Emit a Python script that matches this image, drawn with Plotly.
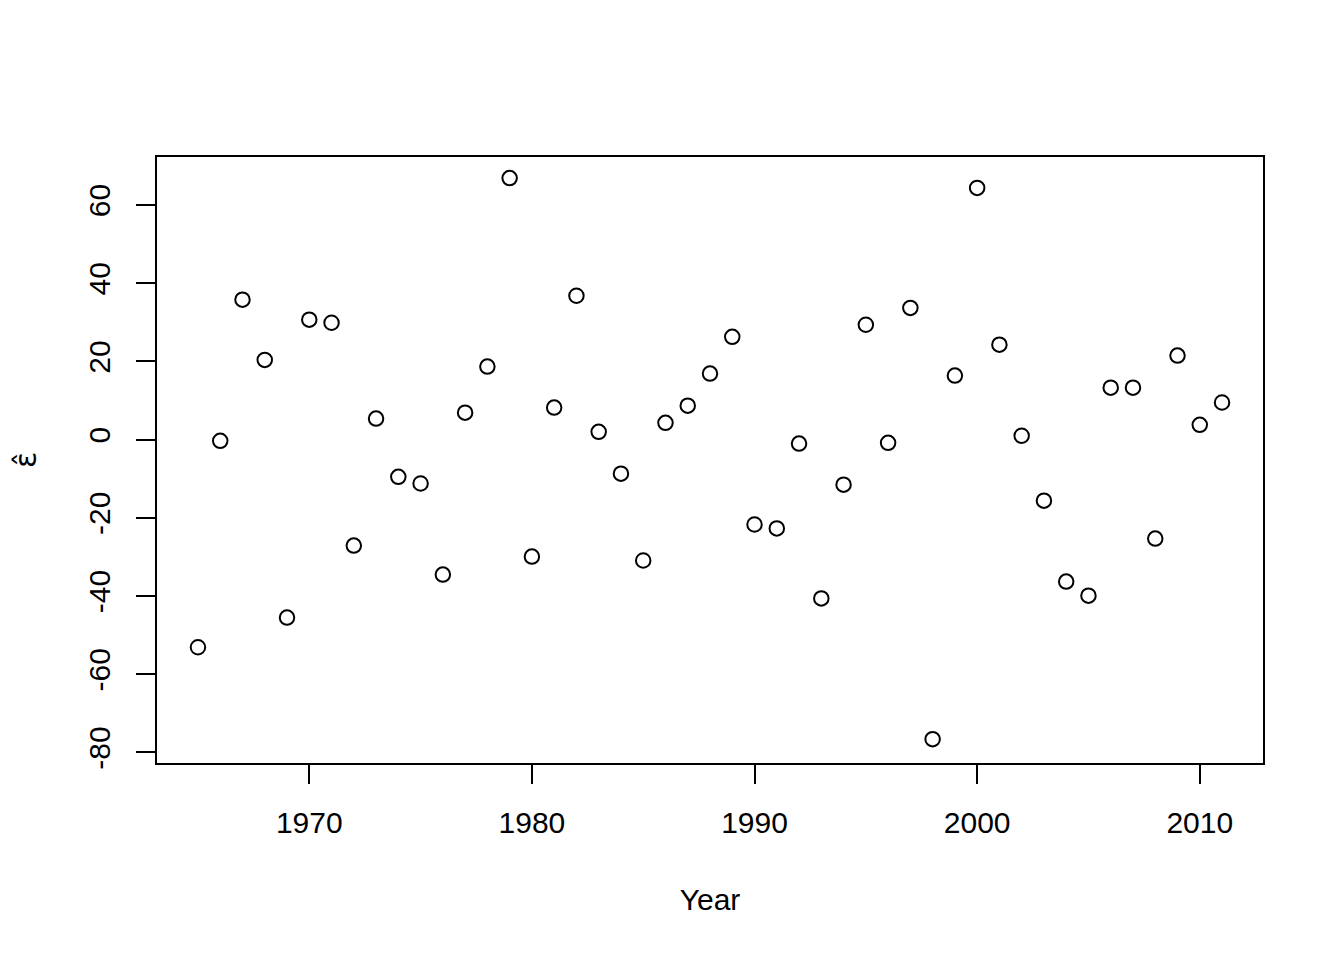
import plotly.graph_objects as go

years = list(range(1965, 2012))
residuals = [-53.1, -0.3, 35.8, 20.4, -45.5, 30.7, 29.9, -27.1, 5.4, -9.5,
             -11.2, -34.5, 6.9, 18.7, 66.9, -29.9, 8.2, 36.8, 2.0, -8.7,
             -30.9, 4.3, 8.7, 16.9, 26.3, -21.7, -22.7, -1.0, -40.6, -11.5,
             29.4, -0.8, 33.7, -76.6, 16.4, 64.4, 24.3, 1.0, -15.6, -36.3,
             -39.9, 13.3, 13.3, -25.3, 21.5, 3.8, 9.5]
x_ticks = [1970, 1980, 1990, 2000, 2010]
y_ticks = [-80, -60, -40, -20, 0, 20, 40, 60]
y_tick_labels = ["-80", "-60", "-40", "-20", "0", "20", "40", "60"]

fig = go.Figure(go.Scatter(
    x=years, y=residuals, mode="markers",
    marker=dict(symbol="circle-open", size=14.5, color="black", line=dict(width=2, color="black")),
    showlegend=False,
))

axis_common = dict(
    showgrid=False, zeroline=False, showline=True, linecolor="black", linewidth=2,
    mirror=True, ticks="outside", ticklen=19, tickwidth=2, tickcolor="black",
    tickfont=dict(family="Liberation Sans, Arial, sans-serif", size=30, color="black"),
)

fig.update_layout(
    width=1344, height=960,
    margin=dict(l=149, r=89, t=149, b=205),
    paper_bgcolor="white", plot_bgcolor="white",
    font=dict(family="Liberation Sans, Arial, sans-serif", size=30, color="black"),
    xaxis=dict(range=[1963.16, 2012.84], tickvals=x_ticks, ticklabelstandoff=13,
               title=dict(text="Year", standoff=51, font=dict(size=30)), **axis_common),
    yaxis=dict(range=[-82.7, 72.3], tickvals=y_ticks, ticktext=y_tick_labels,
               tickangle=-90, ticklabelstandoff=14,
               title=dict(text="ε̂", standoff=38,
                          font=dict(size=30, family="DejaVu Sans")), **axis_common),
)

fig.write_html("out.html")
